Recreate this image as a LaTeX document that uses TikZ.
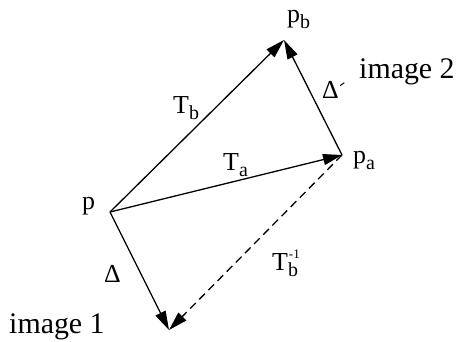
\documentclass[tikz,border=0pt]{standalone}
\usepackage{fontspec}
\setmainfont{Liberation Serif}
\usetikzlibrary{arrows.meta}
\newcommand\lsub[1]{\raisebox{-6.5bp}{\fontsize{20}{20}\selectfont #1}}
\newcommand\lsup[1]{\raisebox{12bp}{\fontsize{13}{13}\selectfont #1}}
\begin{document}
\begin{tikzpicture}[x=1bp,y=-1bp,
  vec/.style={line width=1.3bp, -{Triangle[length=19bp,width=11bp]}},
  dvec/.style={vec, dash pattern=on 8bp off 5bp},
  lbl/.style={font=\fontsize{26}{26}\selectfont, inner sep=0, anchor=base west},
  big/.style={font=\fontsize{30}{30}\selectfont, inner sep=0, anchor=base west}]
\useasboundingbox (0,0) rectangle (458,341);
\coordinate (p) at (110,212);
\coordinate (pb) at (284,40);
\coordinate (pa) at (342,155);
\coordinate (i1) at (169,330);
\draw[vec] (p) -- (pb);
\draw[vec] (p) -- (pa);
\draw[vec] (pa) -- (pb);
\draw[vec] (p) -- (i1);
\draw[dvec] (pa) -- (i1);
\node[lbl] (lp) at (82,209) {p};
\node[lbl] (lpb) at (287,22) {p\lsub{b}};
\node[lbl] (lpa) at (353,163) {p\lsub{a}};
\node[lbl] (lTb) at (173,113) {T\lsub{b}};
\node[lbl] (lTa) at (223,170) {T\lsub{a}};
\node[lbl] (lTbi) at (272,270) {T\lsub{b}\kern-9bp\lsup{-1}};
\node[lbl] (lD) at (104,282) {Δ};
\node[lbl] (lDp) at (322,98) {Δ\lsup{\kern1bp\rotatebox{35}{\rule{5bp}{1bp}}}};
\node[big] (im2) at (359,78) {image 2};
\node[big] (im1) at (9,333) {image 1};
\end{tikzpicture}
\end{document}
